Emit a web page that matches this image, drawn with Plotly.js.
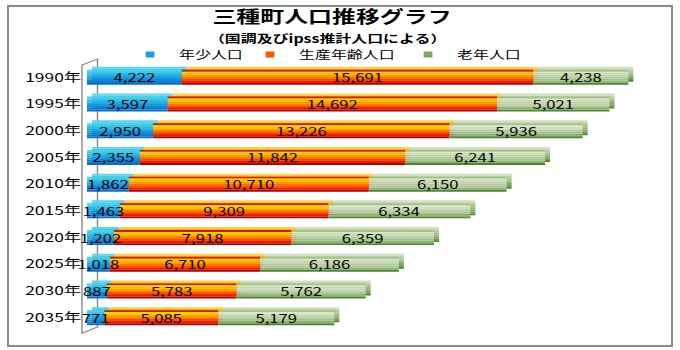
<!DOCTYPE html>
<html>
<head>
<meta charset="utf-8">
<script src="https://cdn.plot.ly/plotly-3.0.1.min.js"></script>
<style>
  html, body { margin: 0; padding: 0; background: #ffffff; overflow: hidden; }
  #wrap { position: relative; width: 680px; height: 350px; overflow: hidden; }
  #plot { position: absolute; left: 0; top: 0; width: 469px; height: 350px;
          transform: scaleX(1.45); transform-origin: 0 0; }
  #frame { position: absolute; left: 7px; top: 5px; width: 666px; height: 342px;
           box-sizing: border-box; border: 2px solid #8a8a8a; pointer-events: none; }
</style>
</head>
<body>
<div id="wrap">
  <div id="plot"></div>
  <div id="frame"></div>
</div>
<script>
// ---- data ----
const years = ['1990年','1995年','2000年','2005年','2010年','2015年','2020年','2025年','2030年','2035年'];
const youth   = [4222, 3597, 2950, 2355, 1862, 1463, 1202, 1018, 887, 771];
const working = [15691, 14692, 13226, 11842, 10710, 9309, 7918, 6710, 5783, 5085];
const elderly = [4238, 5021, 5936, 6241, 6150, 6334, 6359, 6186, 5762, 5179];
const seriesNames = ['年少人口', '生産年齢人口', '老年人口'];
const titleText = '三種町人口推移グラフ';
const subtitleText = '（国調及びipss推計人口による）';

// ---- styling ----
const FONT = 'Noto Sans CJK JP, Noto Sans, sans-serif';
const S = 1.45, W0 = 680 / S, H = 350;
const L = 60, R = 14, T = 61, B = 19;
const PW = W0 - L - R, PH = H - T - B;
const dx = (5 / S) / PW, dy = 3 / PH;
const XMAX = 25330;
const FACE = 0.56, NB = 8;

const faceColors = [
  ['#46D4EC','#38C8EA','#2CBAE6','#22AAE2','#1A9ADC','#148AD6','#0E7CCE','#0A6EC4'],
  ['#D01800','#FFD800','#FFC000','#FFA000','#FF7800','#FF4E00','#F01E00','#B00000'],
  ['#A6C48A','#DAE7CB','#D1E1C0','#C8DAB6','#BED3AB','#B2CA9D','#96B67A','#4E8430']
];
const backColors = [
  ['#5AD6EE','#44CAE8','#30BCE4','#24ACE0','#1A9ADC','#148AD6','#0E7CCE','#0A6EC4'],
  ['#FFD24A','#FFB400','#FF9A00','#FF7A00','#FF5400','#FF3000','#E21400','#A80000'],
  ['#CFE0BE','#BDD4A6','#ACC894','#9EBE86','#92B47A','#84A96C','#6E9858','#4E8430']
];
const legendColors = ['#1E9EDC', '#F85A00', '#7EA65E'];

const bases = [
  youth.map(() => 0),
  youth.slice(),
  youth.map((v, i) => v + working[i])
];
const values = [youth, working, elderly];

function bands(vals, base, colors, xa, ya) {
  return colors.map((c, i) => ({
    type: 'bar', orientation: 'h', y: years, x: vals, base: base,
    width: FACE / NB, offset: -FACE / 2 + i * FACE / NB,
    marker: { color: c, line: { width: 0 } },
    xaxis: xa, yaxis: ya, showlegend: false, hoverinfo: 'skip'
  }));
}

let traces = [];
// back (extruded) copies on shifted axes
for (let s = 0; s < 3; s++) traces = traces.concat(bands(values[s], bases[s], backColors[s], 'x', 'y'));
// front faces
for (let s = 0; s < 3; s++) traces = traces.concat(bands(values[s], bases[s], faceColors[s], 'x2', 'y2'));
// labels
for (let s = 0; s < 3; s++) {
  traces.push({
    type: 'bar', orientation: 'h', y: years, x: values[s], base: bases[s],
    width: FACE, offset: -FACE / 2,
    marker: { color: 'rgba(0,0,0,0)', line: { width: 0 } },
    text: values[s].map(v => v.toLocaleString('en-US')),
    textposition: 'inside', insidetextanchor: 'middle', textangle: 0,
    constraintext: 'none', cliponaxis: false,
    insidetextfont: { family: FONT, size: 11.5, color: '#000000' },
    xaxis: 'x2', yaxis: 'y2', showlegend: false, hoverinfo: 'skip'
  });
}
// legend entries (one legend per series so each can be placed like the reference)
const legendKeys = ['legend', 'legend2', 'legend3'];
for (let s = 0; s < 3; s++) {
  traces.push({
    type: 'scatter', mode: 'markers', x: [null], y: [null], name: seriesNames[s],
    marker: { symbol: 'square', size: 6, color: legendColors[s] },
    xaxis: 'x2', yaxis: 'y2', showlegend: true, legend: legendKeys[s], hoverinfo: 'skip'
  });
}

const px2x = sx => (sx / S - L) / PW;
const px2y = sy => (H - B - sy) / PH;
const wall = [[82, 65], [97.5, 59], [97.5, 327], [82, 333.3]];
const wallPath = 'M' + wall.map(p => px2x(p[0]) + ',' + px2y(p[1])).join('L') + 'Z';

// text start positions of the legend entries (page px) -> legend box x
const legendTextX = [177, 297, 455];
function legendCfg(i) {
  return {
    orientation: 'h', xref: 'container', yref: 'container',
    x: (legendTextX[i] / S - 38.6) / W0, xanchor: 'left',
    y: 1 - 54.5 / 350, yanchor: 'middle',
    font: { family: FONT, size: 11, color: '#000000' },
    bgcolor: 'rgba(0,0,0,0)', borderwidth: 0, tracegroupgap: 0
  };
}

const layout = {
  width: W0, height: H,
  margin: { l: L, r: R, t: T, b: B, pad: 0, autoexpand: false },
  paper_bgcolor: '#ffffff', plot_bgcolor: 'rgba(0,0,0,0)',
  barmode: 'overlay',
  font: { family: FONT, color: '#000000' },
  title: {
    text: '<b>' + titleText + '</b>',
    font: { family: FONT, size: 16.5, color: '#000000' },
    xref: 'container', x: 332 / 680, xanchor: 'center',
    yref: 'container', y: 1 - 17.5 / 350, yanchor: 'middle'
  },
  annotations: [{
    text: '<b>' + subtitleText + '</b>', showarrow: false,
    xref: 'paper', yref: 'paper', x: px2x(328), y: px2y(37.5),
    xanchor: 'center', yanchor: 'middle',
    font: { family: FONT, size: 11, color: '#000000' }
  }],
  legend: legendCfg(0),
  legend2: legendCfg(1),
  legend3: legendCfg(2),
  shapes: [{
    type: 'path', xref: 'paper', yref: 'paper', path: wallPath,
    line: { color: '#8a8a8a', width: 1 }, fillcolor: 'rgba(0,0,0,0)', layer: 'below'
  }],
  xaxis: { domain: [dx, 1], range: [0, XMAX], visible: false, fixedrange: true },
  yaxis: { domain: [dy, 1], type: 'category', categoryarray: years, categoryorder: 'array',
           range: [9.5, -0.5], visible: false, fixedrange: true },
  xaxis2: { domain: [0, 1 - dx], range: [0, XMAX], anchor: 'y2', visible: false, fixedrange: true },
  yaxis2: { domain: [0, 1 - dy], anchor: 'x2', type: 'category', categoryarray: years,
            categoryorder: 'array', range: [9.5, -0.5],
            showgrid: false, zeroline: false, showline: false, ticks: '',
            ticklabelstandoff: 3,
            tickfont: { family: FONT, size: 12, color: '#000000' }, fixedrange: true }
};

Plotly.newPlot('plot', traces, layout, { displayModeBar: false, staticPlot: true });
</script>
</body>
</html>
